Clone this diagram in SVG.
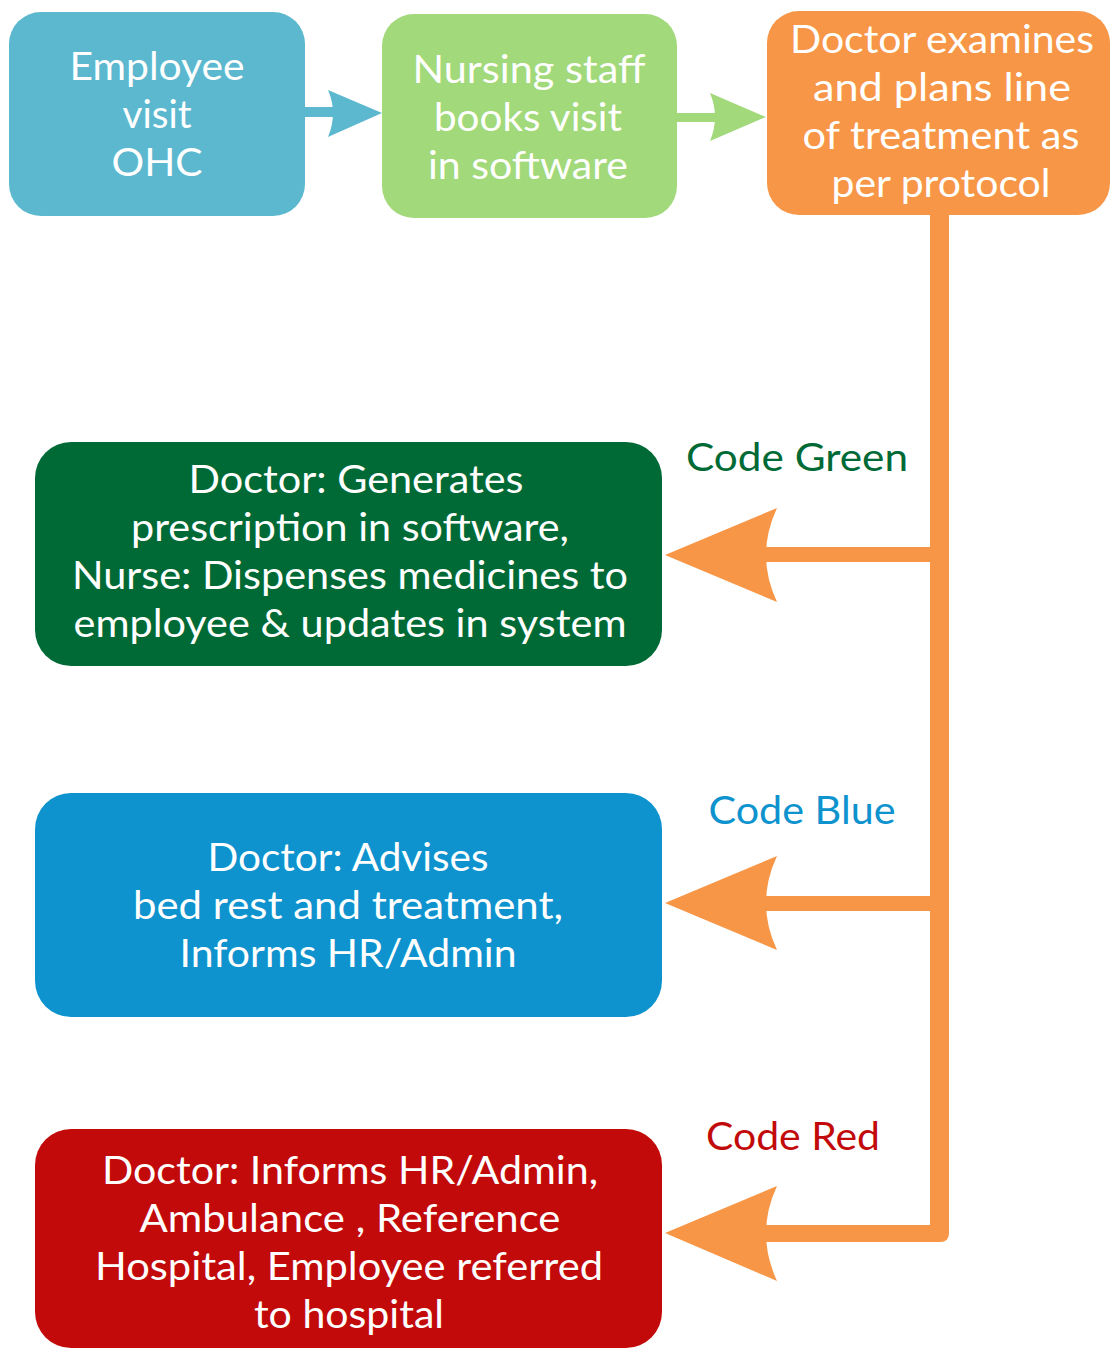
<svg xmlns="http://www.w3.org/2000/svg" width="1110" height="1349" viewBox="0 0 1110 1349">
<style>
.t{font-family:"Lato","Liberation Sans",sans-serif;font-size:38px;fill:#ffffff;text-anchor:middle}
.lbl{font-family:"Lato","Liberation Sans",sans-serif;font-size:38px;text-anchor:middle}
.or{fill:#F79646}
</style>
<rect width="1110" height="1349" fill="#ffffff"/>
<g id="connectors">
<rect x="305" y="107" width="32" height="10" fill="#5BB8CF"/>
<path d="M382,113 L328,90 Q338,113 328,137 Z" fill="#5BB8CF"/>
<rect x="677" y="113" width="42" height="9" fill="#A1D97B"/>
<path d="M766,117 L710,93 Q720,117 710,141 Z" fill="#A1D97B"/>
<path class="or" d="M930,212 L949,212 L949,1233 Q949,1242 940,1242 L766,1242 L766,1225 L930,1225 Z"/>
<rect class="or" x="764" y="547" width="170" height="15"/>
<path class="or" d="M665,555 L777,508 Q755,555 777,602 Z"/>
<rect class="or" x="764" y="896" width="170" height="15"/>
<path class="or" d="M665,903 L777,856 Q755,903 777,950 Z"/>
<path class="or" d="M665,1233 L777,1186 Q755,1233 777,1281 Z"/>
</g>
<g id="n1">
<rect x="9" y="12" width="296" height="204" rx="32" fill="#5BB8CF"/>
<text class="t" x="157" y="80" textLength="175" lengthAdjust="spacingAndGlyphs">Employee</text>
<text class="t" x="157" y="128" textLength="69" lengthAdjust="spacingAndGlyphs">visit</text>
<text class="t" x="157" y="176" textLength="91" lengthAdjust="spacingAndGlyphs">OHC</text>
</g>
<g id="n2">
<rect x="382" y="14" width="295" height="204" rx="32" fill="#A1D97B"/>
<text class="t" x="529" y="83" textLength="233" lengthAdjust="spacingAndGlyphs">Nursing staff</text>
<text class="t" x="528" y="131" textLength="188" lengthAdjust="spacingAndGlyphs">books visit</text>
<text class="t" x="528" y="179" textLength="200" lengthAdjust="spacingAndGlyphs">in software</text>
</g>
<g id="n3">
<rect x="767" y="11" width="343" height="204" rx="32" fill="#F79646"/>
<text class="t" x="942" y="53" textLength="304" lengthAdjust="spacingAndGlyphs">Doctor examines</text>
<text class="t" x="942" y="101" textLength="258" lengthAdjust="spacingAndGlyphs">and plans line</text>
<text class="t" x="941" y="149" textLength="277" lengthAdjust="spacingAndGlyphs">of treatment as</text>
<text class="t" x="941" y="197" textLength="219" lengthAdjust="spacingAndGlyphs">per protocol</text>
</g>
<g id="n4">
<rect x="35" y="442" width="627" height="224" rx="36" fill="#006A36"/>
<text class="t" x="356" y="493" textLength="335" lengthAdjust="spacingAndGlyphs">Doctor: Generates</text>
<text class="t" x="350" y="541" textLength="438" lengthAdjust="spacingAndGlyphs">prescription in software,</text>
<text class="t" x="350" y="589" textLength="556" lengthAdjust="spacingAndGlyphs">Nurse: Dispenses medicines to</text>
<text class="t" x="350" y="637" textLength="553" lengthAdjust="spacingAndGlyphs">employee &amp; updates in system</text>
</g>
<g id="n5">
<rect x="35" y="793" width="627" height="224" rx="36" fill="#0E93CE"/>
<text class="t" x="348" y="871" textLength="281" lengthAdjust="spacingAndGlyphs">Doctor: Advises</text>
<text class="t" x="348" y="919" textLength="430" lengthAdjust="spacingAndGlyphs">bed rest and treatment,</text>
<text class="t" x="348" y="967" textLength="337" lengthAdjust="spacingAndGlyphs">Informs HR/Admin</text>
</g>
<g id="n6">
<rect x="35" y="1129" width="627" height="219" rx="36" fill="#C20A0A"/>
<text class="t" x="350" y="1184" textLength="496" lengthAdjust="spacingAndGlyphs">Doctor: Informs HR/Admin,</text>
<text class="t" x="350" y="1232" textLength="421" lengthAdjust="spacingAndGlyphs">Ambulance , Reference</text>
<text class="t" x="349" y="1280" textLength="508" lengthAdjust="spacingAndGlyphs">Hospital, Employee referred</text>
<text class="t" x="349" y="1328" textLength="190" lengthAdjust="spacingAndGlyphs">to hospital</text>
</g>
<g id="labels">
<text class="lbl" x="797" y="471" fill="#006A36" textLength="222" lengthAdjust="spacingAndGlyphs">Code Green</text>
<text class="lbl" x="802" y="824" fill="#0E93CE" textLength="187" lengthAdjust="spacingAndGlyphs">Code Blue</text>
<text class="lbl" x="793" y="1150" fill="#C20A0A" textLength="174" lengthAdjust="spacingAndGlyphs">Code Red</text>
</g>
</svg>
